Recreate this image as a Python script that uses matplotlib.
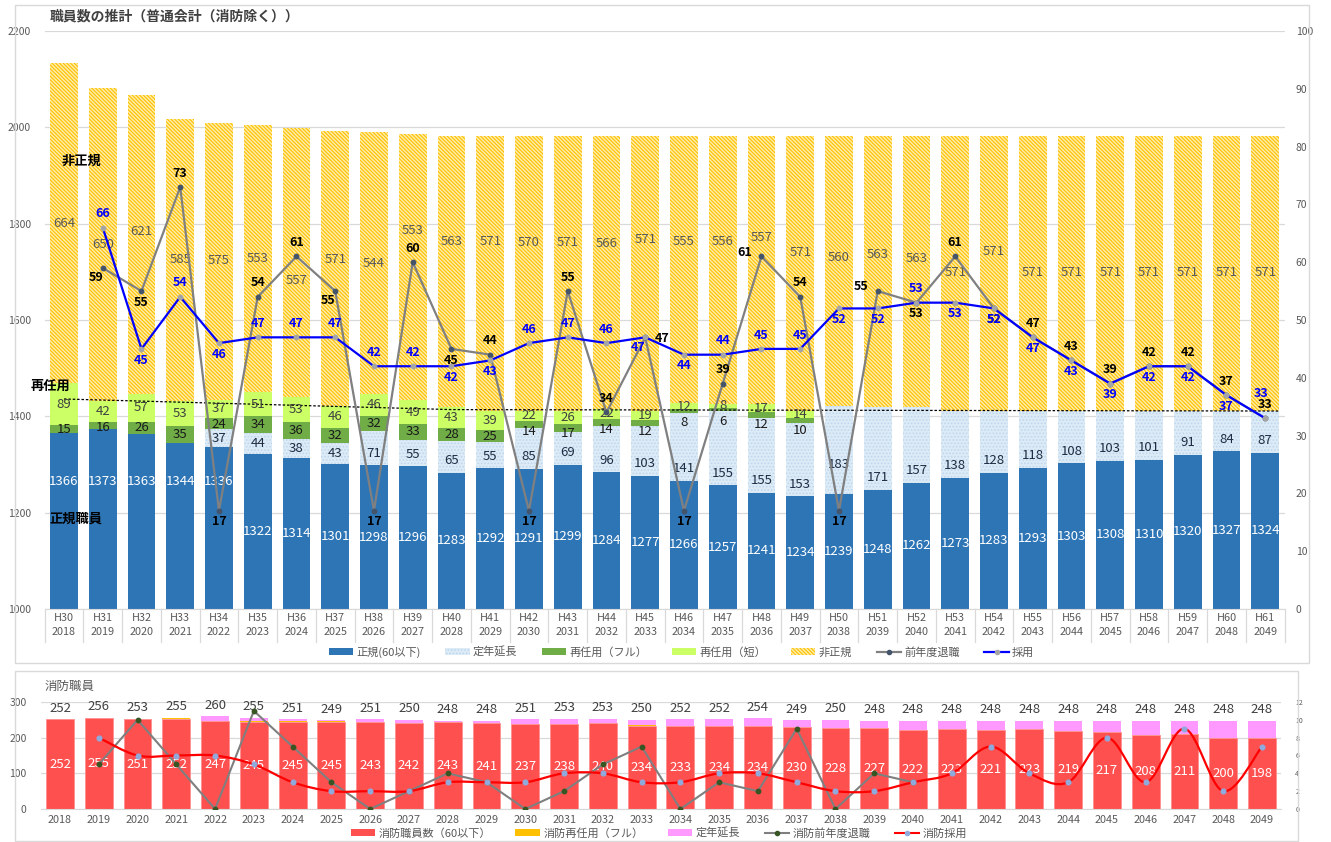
import numpy as np
import matplotlib
matplotlib.use('Agg')
import matplotlib.pyplot as plt
from matplotlib.patches import Patch, Rectangle, PathPatch
from matplotlib.lines import Line2D
from matplotlib.path import Path

plt.rcParams['font.family'] = ['Noto Sans CJK JP', 'DejaVu Sans']
plt.rcParams['hatch.linewidth'] = 0.8

# ---------------- data ----------------
years = [2018, 2019, 2020, 2021, 2022, 2023, 2024, 2025, 2026, 2027, 2028, 2029,
         2030, 2031, 2032, 2033, 2034, 2035, 2036, 2037, 2038, 2039, 2040, 2041,
         2042, 2043, 2044, 2045, 2046, 2047, 2048, 2049]
wareki = ['H30', 'H31', 'H32', 'H33', 'H34', 'H35', 'H36', 'H37', 'H38', 'H39',
          'H40', 'H41', 'H42', 'H43', 'H44', 'H45', 'H46', 'H47', 'H48', 'H49',
          'H50', 'H51', 'H52', 'H53', 'H54', 'H55', 'H56', 'H57', 'H58', 'H59',
          'H60', 'H61']

seiki = [1366, 1373, 1363, 1344, 1336, 1322, 1314, 1301, 1298, 1296, 1283, 1292,
         1291, 1299, 1284, 1277, 1266, 1257, 1241, 1234, 1239, 1248, 1262, 1273,
         1283, 1293, 1303, 1308, 1310, 1320, 1327, 1324]
teinen = [0, 0, 0, 0, 37, 44, 38, 43, 71, 55, 65, 55, 85, 69, 96, 103, 141, 155,
          155, 153, 183, 171, 157, 138, 128, 118, 108, 103, 101, 91, 84, 87]
sainin_full = [15, 16, 26, 35, 24, 34, 36, 32, 32, 33, 28, 25, 14, 17, 14, 12, 8,
               6, 12, 10, 0, 0, 0, 0, 0, 0, 0, 0, 0, 0, 0, 0]
sainin_short = [89, 42, 57, 53, 37, 51, 53, 46, 46, 49, 43, 39, 22, 26, 22, 19,
                12, 8, 17, 14, 0, 0, 0, 0, 0, 0, 0, 0, 0, 0, 0, 0]
hiseiki = [664, 650, 621, 585, 575, 553, 557, 571, 544, 553, 563, 571, 570, 571,
           566, 571, 555, 556, 557, 571, 560, 563, 563, 571, 571, 571, 571, 571,
           571, 571, 571, 571]

line_years = years[1:]
taishoku = [59, 55, 73, 17, 54, 61, 55, 17, 60, 45, 44, 17, 55, 34, 47, 17, 39,
            61, 54, 17, 55, 53, 61, 52, 47, 43, 39, 42, 42, 37, 33]
saiyo = [66, 45, 54, 46, 47, 47, 47, 42, 42, 42, 43, 46, 47, 46, 47, 44, 44, 45,
         45, 52, 52, 53, 53, 52, 47, 43, 39, 42, 42, 37, 33]

fire_seiki = [252, 255, 251, 252, 247, 245, 245, 245, 243, 242, 243, 241, 237,
              238, 240, 234, 233, 234, 234, 230, 228, 227, 222, 223, 221, 223,
              219, 217, 208, 211, 200, 198]
fire_full = [0, 1, 2, 3, 1, 2, 2, 1, 0, 0, 0, 0, 0, 0, 0, 1, 1, 0, 0, 1, 0, 0, 0,
             0, 0, 0, 0, 0, 0, 0, 0, 0]
fire_teinen = [0, 0, 0, 0, 12, 8, 4, 3, 8, 8, 5, 7, 14, 15, 13, 15, 18, 18, 20,
               18, 22, 21, 26, 25, 27, 25, 29, 31, 40, 37, 48, 50]
fire_taishoku_years = years[1:23]
fire_taishoku = [5, 10, 5, 0, 11, 7, 3, 0, 2, 4, 3, 0, 2, 5, 7, 0, 3, 2, 9, 0, 4, 3]
fire_saiyo_years = years[1:]
fire_saiyo = [8, 6, 6, 6, 5, 3, 2, 2, 2, 3, 3, 3, 4, 4, 3, 3, 4, 4, 3, 2, 2, 3, 4,
              7, 4, 3, 8, 3, 9, 2, 7]

# ---------------- style / label placement ----------------
W, H = 1331, 842
C_SEIKI = '#2E75B6'
C_TEINEN = '#DDEBF7'
C_FULL = '#70AD47'
C_SHORT = '#CCFF66'
C_HIS_FACE = '#FFEDA8'
C_HIS_HATCH = '#FFC000'
C_GRID = '#D9D9D9'
C_TXT = '#595959'
HIS_HATCH = '\\' * 9

# label placement codes for line labels (above / below / left ...)
pos_pts = {'a': (0, 10), 'aa': (-3, 18), 'b': (0, -8), 'bl': (-5, -7),
           'l': (-12, 3), 'r': (12, -1)}
gray_pos = ['bl', 'b', 'a', 'b', 'a', 'a', 'bl', 'b', 'a', 'b', 'a', 'b', 'a',
            'a', 'r', 'b', 'a', 'l', 'a', 'b', 'l', 'b', 'a', 'b', 'a', 'a', 'a',
            'a', 'a', 'a', 'a']
blue_pos = ['a', 'b', 'a', 'b', 'a', 'a', 'a', 'a', 'a', 'b', 'b', 'a', 'a', 'a',
            'bl', 'b', 'a', 'a', 'a', 'b', 'b', 'a', 'b', 'b', 'b', 'b', 'b', 'b',
            'b', 'b', 'aa']
# y position (left axis units) for the 非正規 labels as placed in the original
hiseiki_label_y = [1801, 1756, 1783, 1725, 1723, 1727, 1683, 1725, 1718, 1785,
                   1764, 1764, 1760, 1760, 1758, 1768, 1764, 1764, 1772, 1741,
                   1729, 1735, 1727, 1698, 1743, 1698, 1698, 1698, 1698, 1698,
                   1698, 1698]

fig = plt.figure(figsize=(W / 100, H / 100), dpi=100)

# frames
fig.patches.append(Rectangle((15 / W, 1 - 663 / H), (1309 - 15) / W, (663 - 5) / H,
                             transform=fig.transFigure, fill=False,
                             edgecolor=C_GRID, lw=1.0))
fig.patches.append(Rectangle((15 / W, 1 - 841 / H), (1298 - 15) / W, (841 - 671) / H,
                             transform=fig.transFigure, fill=False,
                             edgecolor=C_GRID, lw=1.0))

# ================= top chart =================
ax = fig.add_axes([44.6 / W, 1 - 609 / H, 1240 / W, 578 / H])
idx = np.arange(len(years))
bw = 0.72
s = np.array(seiki, float)
t = np.array(teinen, float)
f = np.array(sainin_full, float)
sh = np.array(sainin_short, float)
hi = np.array(hiseiki, float)

ax.bar(idx, s, bw, color=C_SEIKI, zorder=2)
ax.bar(idx, t, bw, bottom=s, color=C_TEINEN, edgecolor='#BDD7EE', lw=0,
       hatch='.....', zorder=2)
ax.bar(idx, f, bw, bottom=s + t, color=C_FULL, zorder=2)
ax.bar(idx, sh, bw, bottom=s + t + f, color=C_SHORT, zorder=2)
ax.bar(idx, hi, bw, bottom=s + t + f + sh, facecolor=C_HIS_FACE,
       edgecolor=C_HIS_HATCH, lw=0, hatch=HIS_HATCH, zorder=2)

ax.set_xlim(-0.5, len(years) - 0.5)
ax.set_ylim(1000, 2200)
ax.set_yticks(range(1000, 2201, 200))
ax.yaxis.grid(True, color=C_GRID, lw=0.9, zorder=0)
ax.set_axisbelow(True)
for sp in ['left', 'right', 'top']:
    ax.spines[sp].set_visible(False)
ax.spines['bottom'].set_color(C_GRID)
ax.tick_params(axis='y', length=0, labelsize=7.5, labelcolor=C_TXT, pad=10)
ax.set_xticks(idx)
ax.set_xticklabels([f'{w}\n{y}' for w, y in zip(wareki, years)],
                   linespacing=1.45, fontsize=7.8, color=C_TXT)
ax.tick_params(axis='x', length=0, pad=3)
for k in range(len(years) + 1):
    ax.plot([k - 0.5, k - 0.5], [0, -0.057], transform=ax.get_xaxis_transform(),
            color=C_GRID, lw=0.9, clip_on=False)

# bar labels
lab_kw = dict(ha='center', va='center', fontsize=9.5, zorder=6)
for i in idx:
    ys = 1265 if i < 5 else (1000 + s[i]) / 2
    ax.text(i, ys, f'{int(s[i])}', color='white', **lab_kw)
    if t[i] > 0:
        yt = s[i] + min(t[i] / 2, 25)
        if i == 20:
            yt = 1299
        ax.text(i, yt, f'{int(t[i])}', color='#1F2D44', **lab_kw)
    y_sh = s[i] + t[i] + f[i] + sh[i] / 2
    if f[i] > 0:
        y_f = min(s[i] + t[i] + f[i] / 2, y_sh - 33)
        ax.text(i, y_f, f'{int(f[i])}', color='#1A1A1A', **lab_kw)
    if sh[i] > 0:
        ax.text(i, y_sh, f'{int(sh[i])}', color='#404040', **lab_kw)
    ax.text(i, hiseiki_label_y[i], f'{int(hi[i])}', color='#595959', **lab_kw)

# reference dotted line (再任用 boundary)
ref_x = [0, 10, 31.36]
ref_y = [1436, 1414, 1411]
ax.plot(ref_x, ref_y, color='black', lw=0.9, ls=(0, (2, 1.5)), zorder=5)

ax.text(0.46, 1930, '非正規', fontsize=9.5, fontweight='bold', ha='center',
        va='center', zorder=7)
ax.text(-0.36, 1463, '再任用', fontsize=9.5, fontweight='bold', ha='center',
        va='center', zorder=7)
ax.text(0.31, 1187, '正規職員', fontsize=9.5, fontweight='bold', ha='center',
        va='center', zorder=7)

ax2 = ax.twinx()
ax2.set_ylim(0, 100)
ax2.set_yticks(range(0, 101, 10))
ax2.tick_params(axis='y', length=0, labelsize=7.5, labelcolor=C_TXT, pad=8)
for sp in ax2.spines.values():
    sp.set_visible(False)
lx = np.array([years.index(y) for y in line_years])
ax2.plot(lx, taishoku, color='#808080', lw=1.6, marker='o', ms=3.2,
         mfc='#44546A', mec='#44546A', zorder=5)
ax2.plot(lx, saiyo, color='#0000FF', lw=1.6, marker='o', ms=3.2,
         mfc='#A5A5A5', mec='#A5A5A5', zorder=6)
for j, x in enumerate(lx):
    ax2.annotate(f'{taishoku[j]}', (x, taishoku[j]), xytext=pos_pts[gray_pos[j]],
                 textcoords='offset points', ha='center', va='center',
                 fontsize=9, fontweight='bold', color='black', zorder=8)
    ax2.annotate(f'{saiyo[j]}', (x, saiyo[j]), xytext=pos_pts[blue_pos[j]],
                 textcoords='offset points', ha='center', va='center',
                 fontsize=9, fontweight='bold', color='#0000FF', zorder=8)

fig.text(50 / W, 1 - 17 / H, '職員数の推計（普通会計（消防除く））', fontsize=10,
         fontweight='bold', color='#404040', ha='left', va='center')

handles = [Patch(facecolor=C_SEIKI), Patch(facecolor=C_TEINEN, edgecolor='#BDD7EE',
                                            hatch='.....', lw=0),
           Patch(facecolor=C_FULL), Patch(facecolor=C_SHORT),
           Patch(facecolor=C_HIS_FACE, edgecolor=C_HIS_HATCH, hatch=HIS_HATCH, lw=0),
           Line2D([0], [0], color='#808080', lw=1.6, marker='o', ms=3,
                  mfc='#44546A', mec='#44546A'),
           Line2D([0], [0], color='#0000FF', lw=1.6, marker='o', ms=3,
                  mfc='#A5A5A5', mec='#A5A5A5')]
labels = ['正規(60以下)', '定年延長', '再任用（フル）', '再任用（短）', '非正規',
          '前年度退職', '採用']
fig.legend(handles, labels, loc='center', bbox_to_anchor=(0.512, 1 - 652 / H),
           ncol=7, frameon=False, fontsize=8, labelcolor=C_TXT,
           handlelength=2.2, handleheight=0.6, columnspacing=2.2,
           handletextpad=0.3)

# ================= bottom chart =================
bx = fig.add_axes([40.6 / W, 1 - 809 / H, 1240.8 / W, 107 / H])
fs = np.array(fire_seiki, float)
ff = np.array(fire_full, float)
ft = np.array(fire_teinen, float)
bx.bar(idx, fs, bw, color='#FF5050', edgecolor='#FF9090', lw=0.6, zorder=2)
bx.bar(idx, ff, bw, bottom=fs, color='#FFC000', zorder=2)
bx.bar(idx, ft, bw, bottom=fs + ff, color='#FF99FF', zorder=2)
bx.set_xlim(-0.5, len(years) - 0.5)
bx.set_ylim(0, 300)
bx.set_yticks([0, 100, 200, 300])
bx.yaxis.grid(True, color=C_GRID, lw=0.9, zorder=0)
bx.set_axisbelow(True)
for sp in ['left', 'right', 'top']:
    bx.spines[sp].set_visible(False)
bx.spines['bottom'].set_color(C_GRID)
bx.tick_params(axis='y', length=0, labelsize=7.5, labelcolor=C_TXT, pad=10)
bx.set_xticks(idx)
bx.set_xticklabels([str(y) for y in years], fontsize=7.8, color=C_TXT)
bx.tick_params(axis='x', length=0, pad=4)
tot = fs + ff + ft
for i in idx:
    bx.text(i, fs[i] / 2, f'{int(fs[i])}', ha='center', va='center',
            fontsize=9.5, color='white', zorder=6)
    bx.annotate(f'{int(tot[i])}', (i, tot[i]), xytext=(0, 8),
                textcoords='offset points', ha='center', va='center',
                fontsize=9.5, color='#404040')

bx2 = bx.twinx()
bx2.set_ylim(0, 12)
bx2.set_yticks(range(0, 13, 2))
bx2.tick_params(axis='y', length=0, labelsize=5, labelcolor=C_TXT, pad=10)
for sp in bx2.spines.values():
    sp.set_visible(False)

tx = np.array([years.index(y) for y in fire_taishoku_years])
bx2.plot(tx, fire_taishoku, color='#7F7F7F', lw=1.5, marker='o', ms=3.2,
         mfc='#375623', mec='#375623', zorder=5)

# smoothed red line (Excel style smoothing via Catmull-Rom -> cubic Bezier)
sx = np.array([years.index(y) for y in fire_saiyo_years], float)
sy = np.array(fire_saiyo, float)
P = np.column_stack([sx, sy])
verts = [tuple(P[0])]
codes = [Path.MOVETO]
for k in range(len(P) - 1):
    p0 = P[k - 1] if k > 0 else P[k]
    p1, p2 = P[k], P[k + 1]
    p3 = P[k + 2] if k + 2 < len(P) else P[k + 1]
    c1 = p1 + (p2 - p0) / 6.0
    c2 = p2 - (p3 - p1) / 6.0
    verts += [tuple(c1), tuple(c2), tuple(p2)]
    codes += [Path.CURVE4] * 3
bx2.add_patch(PathPatch(Path(verts, codes), facecolor='none', edgecolor='#FF0000',
                        lw=1.6, zorder=6))
bx2.plot(sx, sy, ls='none', marker='o', ms=3.4, mfc='#8FAADC', mec='#8FAADC',
         zorder=7)

fig.text(45 / W, 1 - 686 / H, '消防職員', fontsize=9, color=C_TXT, ha='left',
         va='center')

bh = [Patch(facecolor='#FF5050'), Patch(facecolor='#FFC000'),
      Patch(facecolor='#FF99FF'),
      Line2D([0], [0], color='#7F7F7F', lw=1.5, marker='o', ms=3,
             mfc='#375623', mec='#375623'),
      Line2D([0], [0], color='#FF0000', lw=1.5, marker='o', ms=3,
             mfc='#8FAADC', mec='#8FAADC')]
bl = ['消防職員数（60以下）', '消防再任用（フル）', '定年延長', '消防前年度退職',
      '消防採用']
fig.legend(bh, bl, loc='center', bbox_to_anchor=(0.495, 1 - 833 / H), ncol=5,
           frameon=False, fontsize=8, labelcolor=C_TXT, handlelength=2.2,
           handleheight=0.6, columnspacing=2.2, handletextpad=0.3)

fig.savefig('out.png', dpi=100)
